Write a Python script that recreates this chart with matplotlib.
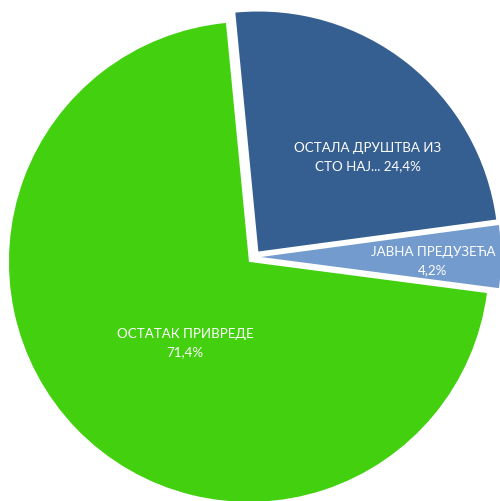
import matplotlib
matplotlib.use("Agg")
import matplotlib.pyplot as plt

categories = ["ОСТАЛА ДРУШТВА ИЗ СТО НАЈ...", "ЈАВНА ПРЕДУЗЕЋА", "ОСТАТАК ПРИВРЕДЕ"]
values = [24.4, 4.2, 71.4]
label_texts = ["ОСТАЛА ДРУШТВА ИЗ\nСТО НАЈ... 24,4%", "ЈАВНА ПРЕДУЗЕЋА\n4,2%", "ОСТАТАК ПРИВРЕДЕ\n71,4%"]
colors = ["#365F91", "#739BCD", "#43D10F"]

W, H = 500, 501
fig = plt.figure(figsize=(W / 100, H / 100), dpi=100)
ax = fig.add_axes([0, 0, 1, 1])

cx, cy = 254, H - 257
R = 240
ax.pie(values, colors=colors, startangle=95.5, counterclock=False,
       radius=R, center=(cx, cy), explode=[7, 7, 7],
       wedgeprops=dict(linewidth=0))
ax.set_xlim(0, W)
ax.set_ylim(0, H)
ax.set_aspect("equal")
ax.axis("off")

# label anchor positions (pixel coords, y from top)
label_pos = [(368, 157), (433, 261), (185, 343)]
for txt, (lx, ly) in zip(label_texts, label_pos):
    ax.text(lx, H - ly, txt, ha="center", va="center", color="white",
            fontsize=9.6, family=["Lato", "DejaVu Sans"], linespacing=1.6)

fig.savefig("out.png", dpi=100)
